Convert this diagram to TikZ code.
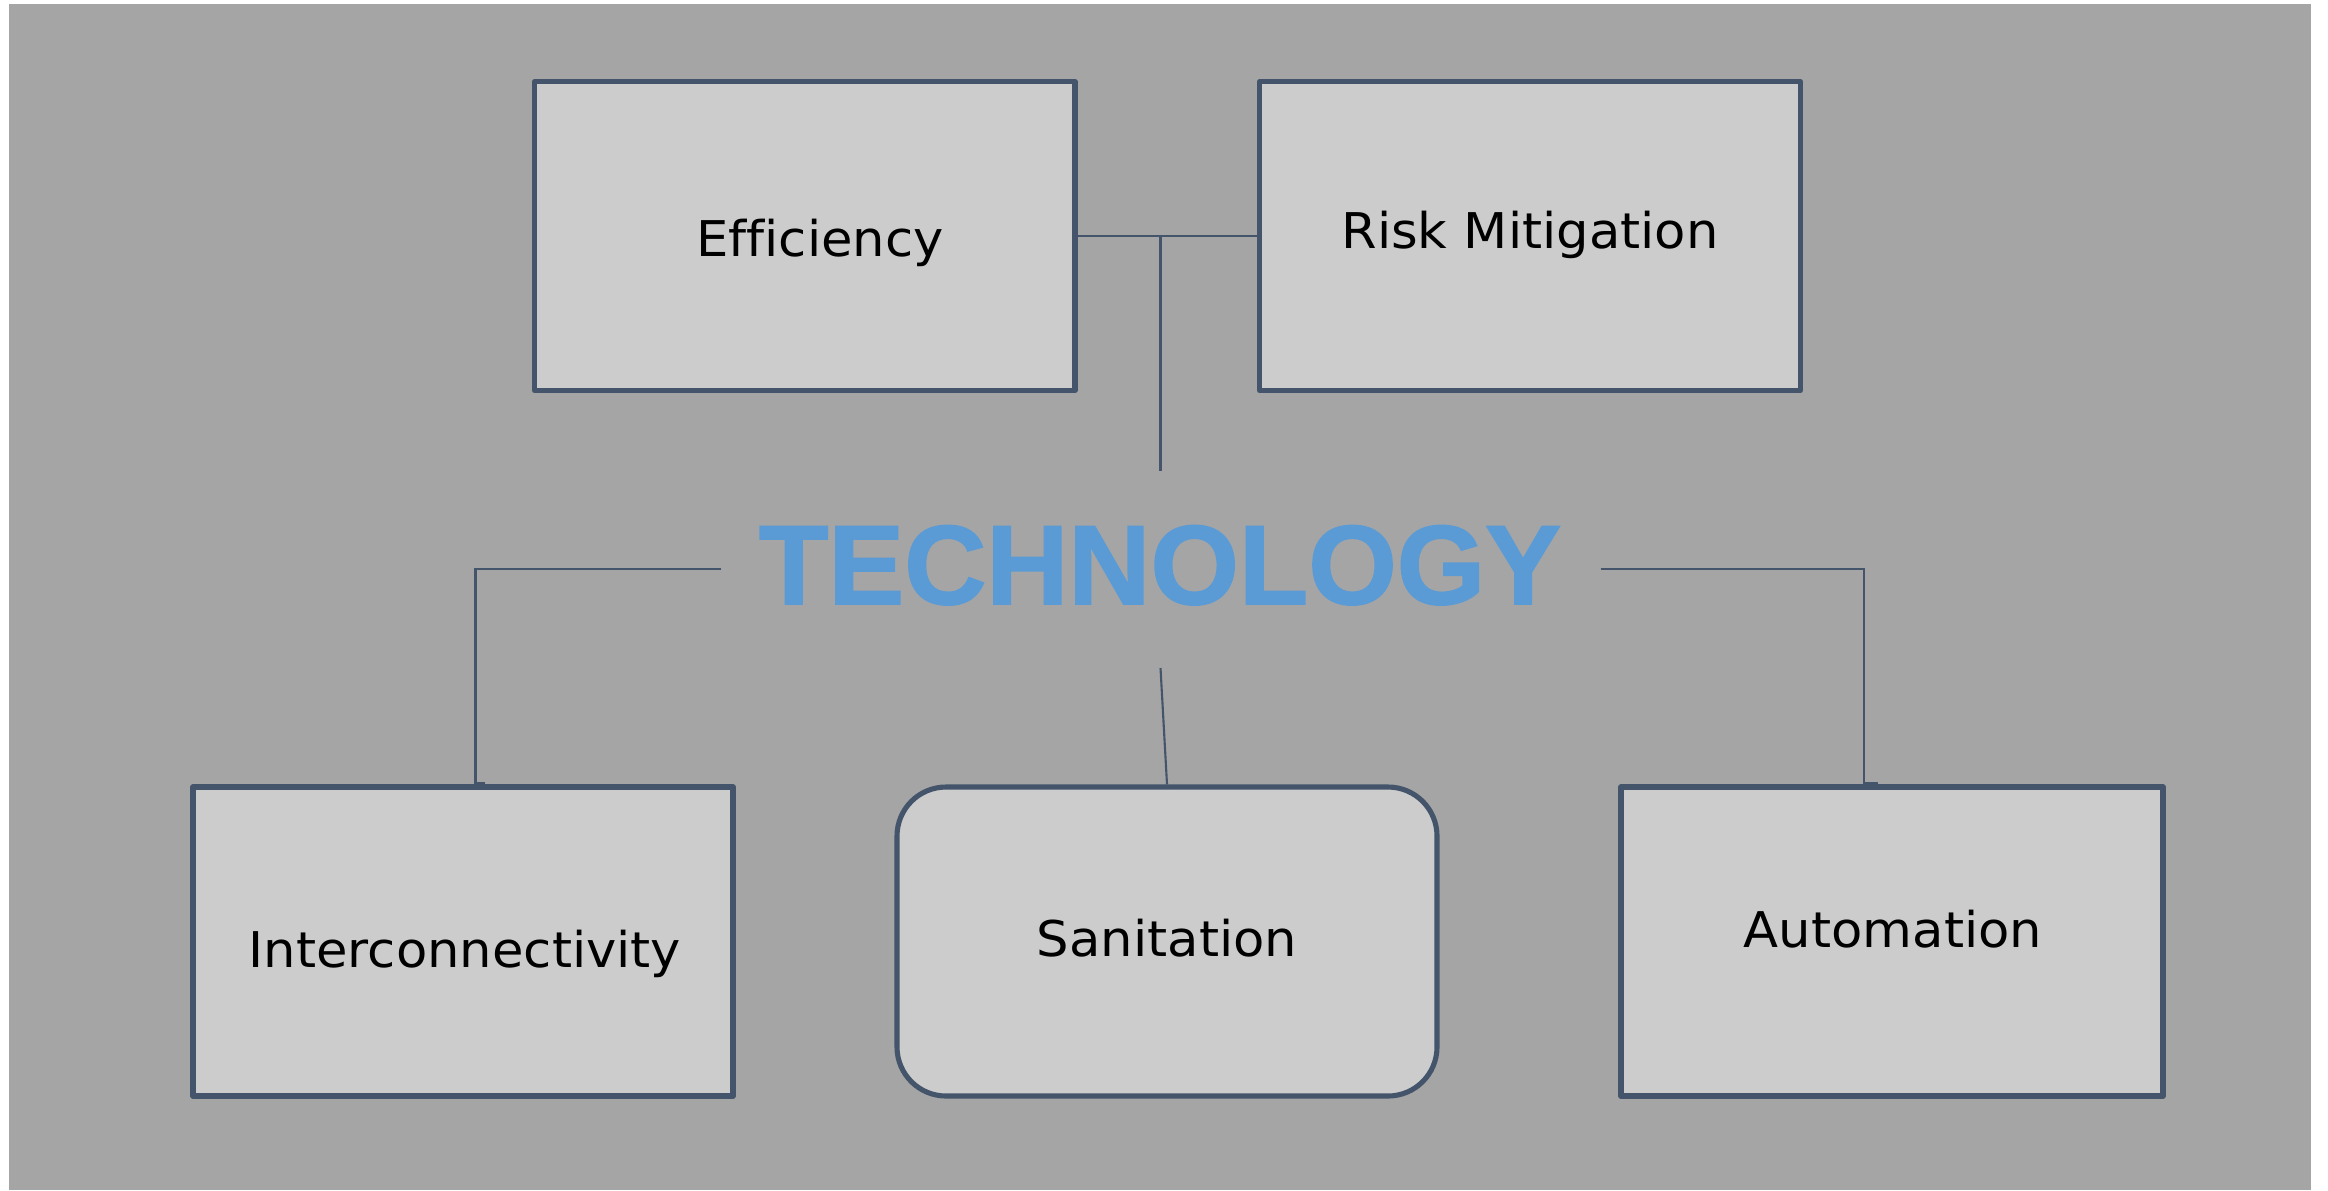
\documentclass[tikz,border=0pt]{standalone}
\usepackage{fontspec}
\setmainfont[Ligatures=NoCommon]{DejaVu Sans}
\newfontfamily\techfont[FakeBold=1.5]{Liberation Sans}
\definecolor{bgc}{HTML}{A5A5A5}
\definecolor{boxfill}{HTML}{CCCCCC}
\definecolor{edgec}{HTML}{44546A}
\definecolor{techc}{HTML}{5B9BD5}
\begin{document}
\begin{tikzpicture}[x=0.01cm,y=-0.01cm,
  box/.style={draw=edgec,fill=boxfill,line width=1.45pt,line join=round,inner sep=0pt},
  lbl/.style={anchor=base,font=\fontsize{14}{16}\selectfont,text=black,inner sep=0pt,xscale=1.04},
  conn/.style={draw=edgec,line width=0.6pt}]
\useasboundingbox (0,0) rectangle (2328,1190);
\fill[white] (0,0) rectangle (2328,1190);
\fill[bgc] (9,4) rectangle (2311,1190);
% boxes
\node[box,minimum width=540.5*0.01cm,minimum height=308.8*0.01cm] (eff) at (804.75,236.1) {};
\node[box,minimum width=541*0.01cm,minimum height=308.8*0.01cm] (risk) at (1530,236.1) {};
\node[box,minimum width=540*0.01cm,minimum height=309*0.01cm] (inter) at (463,941.5) {};
\node[box,rounded corners=0.49cm,minimum width=540*0.01cm,minimum height=309*0.01cm] (sani) at (1167,941.5) {};
\node[box,minimum width=542*0.01cm,minimum height=309*0.01cm] (auto) at (1892,941.5) {};
% labels
\node[lbl] (teff) at (820,256.7) {Efficiency};
\node[lbl] (trisk) at (1530,248) {Risk Mitigation};
\node[lbl] (tinter) at (465,967.3) {Interconnectivity};
\node[lbl] (tsani) at (1167,956.7) {Sanitation};
\node[lbl] (tauto) at (1893,947.3) {Automation};
% central title
\node[anchor=base,inner sep=0pt,text=techc,font=\techfont\bfseries\fontsize{32}{36}\selectfont,xscale=1.01] (tech) at (1160,604) {TECHNOLOGY};
% connector endpoints
\coordinate (topj) at (1160.5,236.1);
\coordinate (topend) at (1160.5,470.5);
\coordinate (lstart) at (721,569);
\coordinate (lcorner) at (475.5,569);
\coordinate (lfoot) at (475.5,783);
\coordinate (ltick) at (485,783);
\coordinate (rstart) at (1600.5,569);
\coordinate (rcorner) at (1864,569);
\coordinate (rfoot) at (1864,783);
\coordinate (rtick) at (1878,783);
\coordinate (cstart) at (1160.5,668);
% connectors
\draw[conn] (eff.east) -- (risk.west);
\draw[conn] (topj) -- (topend);
\draw[conn] (lstart) -- (lcorner) -- (lfoot) -- (ltick);
\draw[conn] (rstart) -- (rcorner) -- (rfoot) -- (rtick);
\draw[conn] (cstart) -- (sani.north);
\end{tikzpicture}
\end{document}
